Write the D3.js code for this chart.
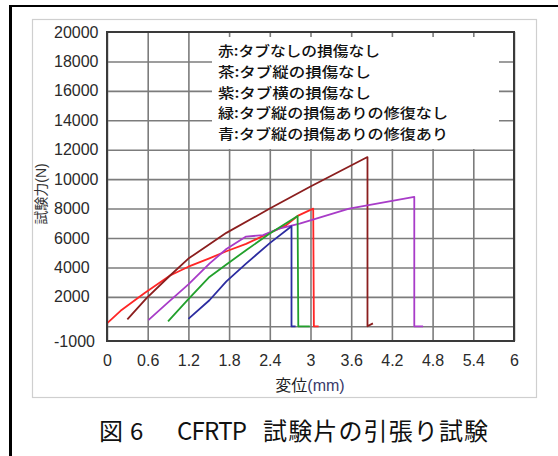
<!DOCTYPE html>
<html>
<head>
<meta charset="utf-8">
<script src="https://cdn.jsdelivr.net/npm/d3@7"></script>
<style>
  body { margin: 0; background: #fff; }
  svg { display: block; }
</style>
</head>
<body>
<div id="viz"></div>
<script>
// data (displacement in mm, force in N)
const redDisp = [0, 0.2, 0.55, 0.93, 1.2, 1.5, 1.76, 2.05, 2.35, 2.64, 2.81, 3.04, 3.05, 3.12];
const redForce = [200, 1050, 2250, 3450, 4050, 4600, 5100, 5600, 6250, 6860, 7500, 8000, 0, 0];

const brownDisp = [0.3, 0.58, 0.93, 1.2, 1.76, 2.4, 3.0, 3.84, 3.84, 3.92];
const brownForce = [470, 1900, 3450, 4600, 6350, 8000, 9500, 11500, 0, 200];

const purpleDisp = [0.61, 0.88, 1.2, 1.51, 1.76, 2.05, 2.3, 2.54, 2.84, 3.57, 4.53, 4.53, 4.66];
const purpleForce = [420, 1540, 2850, 4260, 5250, 6100, 6190, 6640, 6980, 8000, 8790, 0, 0];

const greenDisp = [0.9, 1.2, 1.51, 1.76, 2.05, 2.4, 2.81, 2.82, 2.99];
const greenForce = [340, 1850, 3350, 4200, 5170, 6300, 7500, 0, 0];

const blueDisp = [1.2, 1.51, 1.76, 2.05, 2.4, 2.72, 2.72, 2.78];
const blueForce = [500, 1770, 3050, 4260, 5650, 6800, 0, 0];

const seriesColors = ["#ff2626", "#8b1e1e", "#a83cc8", "#22a02c", "#2c2ca0"];

const legendLines = [
  "赤:タブなしの損傷なし",
  "茶:タブ縦の損傷なし",
  "紫:タブ横の損傷なし",
  "緑:タブ縦の損傷ありの修復なし",
  "青:タブ縦の損傷ありの修復あり"
];

const xTicks = [0, 0.6, 1.2, 1.8, 2.4, 3, 3.6, 4.2, 4.8, 5.4, 6];
const yTickLabels = [20000, 18000, 16000, 14000, 12000, 10000, 8000, 6000, 4000, 2000, -1000];
const yGrid = [0, 2000, 4000, 6000, 8000, 10000, 12000, 14000, 16000, 18000];

// page and plot dimensions
const width = 558;
const height = 456;
const margin = {left: 107, top: 32, right: 44, bottom: 115};
const g_width = width - margin.left - margin.right;
const g_height = height - margin.top - margin.bottom;

const root = d3.select("#viz")
  .append("svg")
  .attr("width", width)
  .attr("height", height);

// outer page frame (only top and left visible)
root.append("line")
  .attr("x1", 10).attr("x2", width).attr("y1", 6).attr("y2", 6)
  .style("stroke", "#000").style("stroke-width", 2);
root.append("line")
  .attr("x1", 10.5).attr("x2", 10.5).attr("y1", 5).attr("y2", height)
  .style("stroke", "#000").style("stroke-width", 3);

// chart panel
root.append("rect")
  .attr("x", 32.5).attr("y", 19.5)
  .attr("width", 504).attr("height", 378)
  .style("fill", "#fff").style("stroke", "#cfcfcf").style("stroke-width", 1.2);

const svg = root.append("g")
  .attr("transform", "translate(" + margin.left + "," + margin.top + ")");

const x = d3.scaleLinear().domain([0, 6]).range([0, g_width]);
const y = d3.scaleLinear().domain([-1000, 20000]).range([g_height, 0]);

// grid lines
svg.append("g")
  .attr("class", "xgrid")
  .attr("transform", "translate(0," + g_height + ")")
  .call(d3.axisBottom(x).tickValues(xTicks).tickSize(-g_height).tickFormat(""))
  .call(g => g.select(".domain").remove())
  .selectAll("line")
  .style("stroke", "#7c7c7c").style("stroke-width", 1.6);

svg.append("g")
  .attr("class", "ygrid")
  .call(d3.axisLeft(y).tickValues(yGrid).tickSize(-g_width).tickFormat(""))
  .call(g => g.select(".domain").remove())
  .selectAll("line")
  .style("stroke", "#7c7c7c").style("stroke-width", 1.6);

// legend box hides the grid behind it
svg.append("rect")
  .attr("x", 212 - margin.left).attr("y", 37 - margin.top)
  .attr("width", 287).attr("height", 112)
  .style("fill", "#fff");

const legendWidths = [162, 153, 153, 230, 230];
const legendBase = [56, 77, 97.5, 118, 138.5];
svg.append("g")
  .selectAll("text")
  .data(legendLines)
  .enter()
  .append("text")
  .attr("x", 218 - margin.left)
  .attr("y", (d, i) => legendBase[i] - margin.top)
  .attr("textLength", (d, i) => legendWidths[i])
  .attr("lengthAdjust", "spacingAndGlyphs")
  .style("font-family", "'Noto Sans CJK JP'")
  .style("font-size", "14px")
  .style("font-weight", 500)
  .style("fill", "#111")
  .text(d => d);

// curves
const series = [
  {disp: redDisp, force: redForce},
  {disp: brownDisp, force: brownForce},
  {disp: purpleDisp, force: purpleForce},
  {disp: greenDisp, force: greenForce},
  {disp: blueDisp, force: blueForce}
];

const line = d3.line()
  .x(d => x(d[0]))
  .y(d => y(d[1]));

svg.append("g")
  .selectAll("path")
  .data(series)
  .enter()
  .append("path")
  .attr("d", s => line(s.disp.map((v, i) => [v, s.force[i]])))
  .style("fill", "none")
  .style("stroke", (s, i) => seriesColors[i])
  .style("stroke-width", 1.8)
  .style("stroke-linejoin", "round");

// plot frame
svg.append("rect")
  .attr("width", g_width).attr("height", g_height)
  .style("fill", "none").style("stroke", "#3a3a3a").style("stroke-width", 2);

// tick labels
svg.append("g")
  .attr("class", "xaxis")
  .attr("transform", "translate(0," + g_height + ")")
  .call(d3.axisBottom(x).tickValues(xTicks).tickSize(0).tickPadding(14).tickFormat(d => String(d)))
  .call(g => g.select(".domain").remove())
  .selectAll("text")
  .style("font-family", "'Liberation Sans', Arial")
  .style("font-size", "16px")
  .style("fill", "#2a2a2a");

svg.append("g")
  .attr("class", "yaxis")
  .call(d3.axisLeft(y).tickValues(yTickLabels).tickSize(0).tickFormat(d => String(d)))
  .call(g => g.select(".domain").remove())
  .selectAll("text")
  .attr("x", 54 - margin.left)
  .style("text-anchor", "start")
  .style("font-family", "'Liberation Sans', Arial")
  .style("font-size", "16px")
  .style("fill", "#2a2a2a");

// axis titles
const xTitle = root.append("text")
  .attr("x", 310).attr("y", 391)
  .attr("text-anchor", "middle")
  .style("font-size", "16px")
  .style("fill", "#222");
xTitle.append("tspan").style("font-family", "'Noto Sans CJK JP'").text("変位");
xTitle.append("tspan").style("font-family", "'Liberation Sans', Arial").style("fill", "#3a3a6a").text("(mm)");

const yTitle = root.append("text")
  .attr("transform", "translate(46,194)rotate(-90)")
  .attr("text-anchor", "middle")
  .style("font-size", "14px")
  .style("fill", "#333");
yTitle.append("tspan").style("font-family", "'Noto Sans CJK JP'").text("試験力");
yTitle.append("tspan").style("font-family", "'Liberation Sans', Arial").text("(N)");

// caption
const caption = root.append("g")
  .style("font-family", "'Noto Sans CJK JP'")
  .style("font-size", "24px")
  .style("fill", "#111");
caption.append("text").attr("x", 99).attr("y", 440).text("図");
caption.append("text").attr("x", 130).attr("y", 440).text("6");
caption.append("text").attr("x", 177).attr("y", 440).attr("textLength", 70).text("CFRTP");
caption.append("text").attr("x", 263).attr("y", 440).attr("textLength", 225).text("試験片の引張り試験");
</script>
</body>
</html>
